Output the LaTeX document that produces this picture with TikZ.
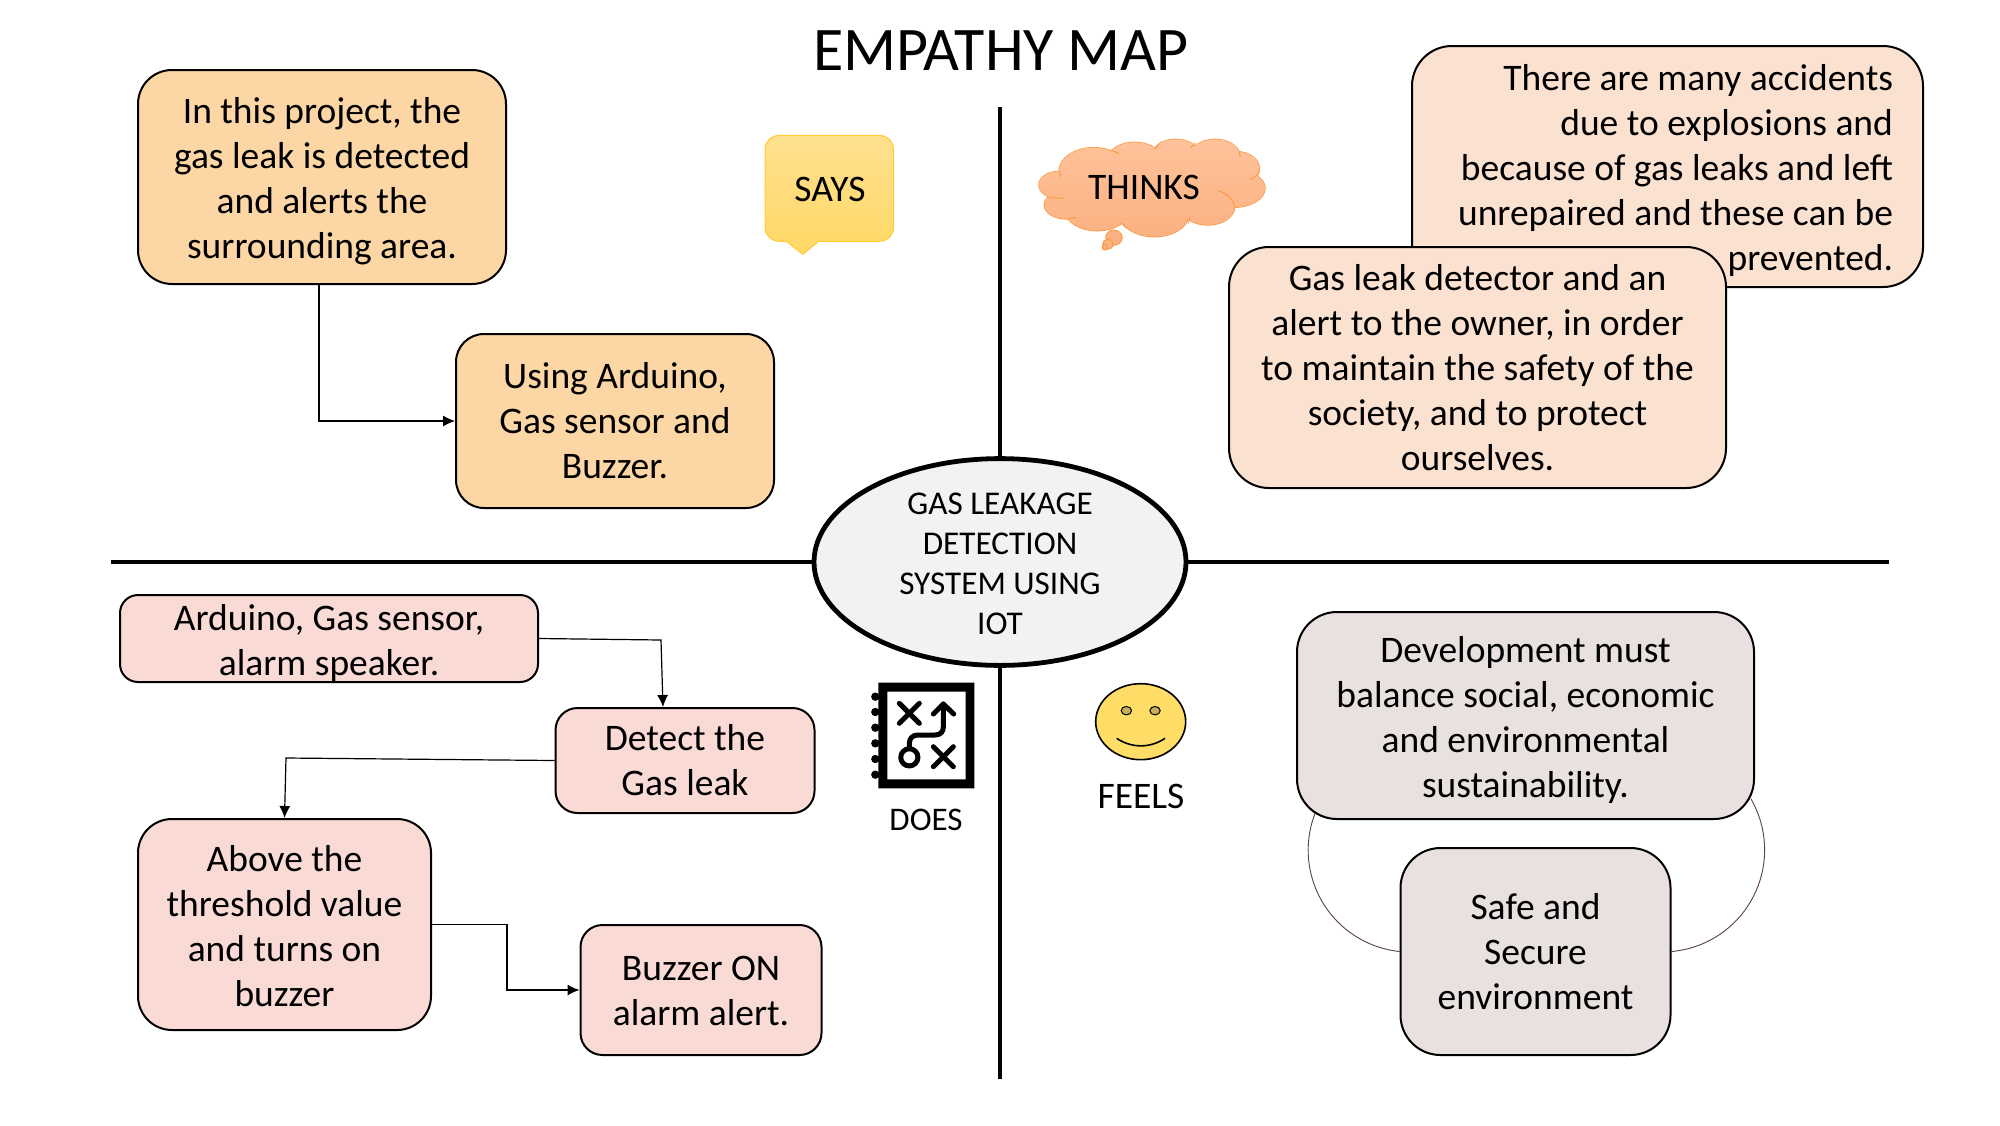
\documentclass[tikz,border=0pt]{standalone}
\usepackage{fontspec}
\setmainfont{Carlito}
\usetikzlibrary{arrows.meta,backgrounds,shapes.geometric}
\definecolor{cOrange}{HTML}{FDD6A5}
\definecolor{cPeach}{HTML}{FBE1D0}
\definecolor{cPink}{HTML}{F9DAD5}
\definecolor{cGrey}{HTML}{E9E0E0}
\definecolor{cCenter}{HTML}{F2F2F2}
\definecolor{cCloudLine}{HTML}{F79A3E}
\definecolor{cCloudTop}{HTML}{FFC29B}
\definecolor{cCloudBot}{HTML}{FBB181}
\definecolor{cSaysLine}{HTML}{FFCB2E}
\definecolor{cSaysTop}{HTML}{FFE08F}
\definecolor{cSaysBot}{HTML}{FFD966}
\definecolor{cSmile}{HTML}{FFDD66}
\definecolor{cEye}{HTML}{C9AE5A}
\definecolor{cArc}{HTML}{5B4045}
\newcommand{\dnrule}[1]{\rule{0pt}{#1pt}}
\tikzset{
  card/.style={draw=black,line width=1pt,rounded corners=#1,align=center,inner sep=0pt,
    font=\fontsize{18.75}{22.5}\selectfont},
  card/.default=17pt,
  label text/.style={inner sep=0pt,align=center},
  link/.style={draw=black,line width=0.6pt,-{Latex[length=6pt,width=5.5pt]}},
  axis/.style={draw=black,line width=2.4pt},
  icon/.style={draw=black,line width=2.5pt,line cap=round,line join=round},
  bump/.style={cCloudLine,line width=0.45pt},
}
\begin{document}
\begin{tikzpicture}[x=0.5pt,y=-0.5pt]
\useasboundingbox (0,0) rectangle (2000,1125);
% title
\node[label text,font=\fontsize{31}{36}\selectfont] (title) at (1001,51) {EMPATHY MAP};

% axes and centre
\coordinate (vTop) at (1000,107);
\coordinate (vBot) at (1000,1079);
\coordinate (hL) at (111,562);
\coordinate (hR) at (1889,562);
\node[ellipse,draw=black,line width=2.4pt,fill=cCenter,minimum width=186pt,minimum height=102pt,inner sep=0pt,align=center,font=\fontsize{16.6}{20}\selectfont] (center) at (1000,562)
  {\dnrule{13}GAS LEAKAGE\\DETECTION\\SYSTEM USING\\IOT};
\draw[axis] (center.north) -- (vTop);
\draw[axis] (center.south) -- (vBot);
\draw[axis] (center.west) -- (hL);
\draw[axis] (center.east) -- (hR);

% SAYS quadrant
\coordinate (d1) at (319,0);
\node[card,fill=cOrange,minimum width=184pt,minimum height=107pt] (b1) at (322,177)
  {\dnrule{17.5}In this project, the\\gas leak is detected\\and alerts the\\surrounding area.};
\node[card=14pt,fill=cOrange,minimum width=159pt,minimum height=87pt] (b2) at (615,421)
  {Using Arduino,\\Gas sensor and\\Buzzer.};
\draw[link] (b1.south -| d1) |- (b2.west);

% SAYS bubble and cloud, in the units of a crop
\begin{scope}[shift={(370pt,-55pt)},x=0.17857pt,y=-0.16667pt]
\shade[top color=cSaysTop,bottom color=cSaysBot,draw=cSaysLine,line width=0.5pt]
  (112,76) -- (388,76) .. controls (412,76) and (430,94) .. (430,118) -- (430,352)
  .. controls (430,376) and (412,394) .. (388,394) -- (220,394) -- (176,433) -- (130,394) -- (112,394)
  .. controls (88,394) and (70,376) .. (70,352) -- (70,118) .. controls (70,94) and (88,76) .. (112,76) -- cycle;
\foreach \a/\b/\c/\d in {890/225/53/40,990/185/97/72,1105/140/70/43,1220/125/60/37,1330/140/70/52,1390/175/64/50,1380/235/90/57,1310/290/75/55,1160/310/98/70,1000/300/90/62,915/285/63/42}
  \draw[cCloudLine,line width=0.7pt] (\a,\b) ellipse[x radius=\c*0.17857pt,y radius=\d*0.16667pt];
\shade[top color=cCloudTop,bottom color=cCloudBot]
  (890,225) ellipse[x radius=53*0.17857pt,y radius=40*0.16667pt]
  (990,185) ellipse[x radius=97*0.17857pt,y radius=72*0.16667pt]
  (1105,140) ellipse[x radius=70*0.17857pt,y radius=43*0.16667pt]
  (1220,125) ellipse[x radius=60*0.17857pt,y radius=37*0.16667pt]
  (1330,140) ellipse[x radius=70*0.17857pt,y radius=52*0.16667pt]
  (1390,175) ellipse[x radius=64*0.17857pt,y radius=50*0.16667pt]
  (1380,235) ellipse[x radius=90*0.17857pt,y radius=57*0.16667pt]
  (1310,290) ellipse[x radius=75*0.17857pt,y radius=55*0.16667pt]
  (1160,310) ellipse[x radius=98*0.17857pt,y radius=70*0.16667pt]
  (1000,300) ellipse[x radius=90*0.17857pt,y radius=62*0.16667pt]
  (915,285) ellipse[x radius=63*0.17857pt,y radius=42*0.16667pt]
  (1150,220) ellipse[x radius=240*0.17857pt,y radius=95*0.16667pt];
\draw[bump] (1035,120) .. controls (1045,123) and (1055,127) .. (1062,131);
\draw[bump] (1162,118) .. controls (1164,113) and (1167,108) .. (1172,103);
\draw[bump] (1262,113) .. controls (1266,108) and (1270,104) .. (1275,100);
\draw[bump] (1398,125) .. controls (1400,130) and (1401,135) .. (1401,140);
\draw[bump] (1428,208) .. controls (1440,202) and (1450,195) .. (1455,183);
\draw[bump] (1338,242) .. controls (1365,250) and (1382,270) .. (1385,292);
\draw[bump] (1255,340) .. controls (1258,333) and (1259,327) .. (1259,321);
\draw[bump] (1068,340) .. controls (1073,345) and (1077,350) .. (1082,354);
\draw[bump] (920,325) .. controls (927,325) and (933,324) .. (940,322);
\draw[bump] (865,262) .. controls (880,264) and (893,265) .. (907,264);
\draw[bump] (895,185) .. controls (895,190) and (896,196) .. (899,202);
\draw[cCloudLine,fill=cCloudBot,line width=0.45pt] (1047,383) ellipse[x radius=23*0.17857pt,y radius=23*0.16667pt];
\draw[cCloudLine,fill=cCloudBot,line width=0.45pt] (1030,403) ellipse[x radius=15*0.17857pt,y radius=15*0.16667pt];
\draw[cCloudLine,fill=cCloudBot,line width=0.45pt] (1022,412) ellipse[x radius=8*0.17857pt,y radius=8*0.16667pt];
\end{scope}
\node[label text,font=\fontsize{18.75}{22}\selectfont] (says) at (830,189) {SAYS};
\node[label text,font=\fontsize{18.75}{22}\selectfont] (thinks) at (1144,187) {THINKS};

% THINKS quadrant
\node[card=20pt,fill=cPeach,minimum height=120.5pt,text width=225.5pt,inner xsep=15pt,align=flush right] (b3) at (1667.5,166.5)
  {\dnrule{17.5}There are many accidents\\due to explosions and\\because of gas leaks and left\\unrepaired and these can be\\prevented.};
\node[card=20pt,fill=cPeach,minimum width=248.5pt,minimum height=120.5pt] (b4) at (1477.5,367.5)
  {Gas leak detector and an\\alert to the owner, in order\\to maintain the safety of the\\society, and to protect\\ourselves.};

% DOES quadrant
\node[card=9pt,fill=cPink,minimum width=209pt,minimum height=43.5pt] (b5) at (329,638.5)
  {\dnrule{17.5}Arduino, Gas sensor,\\alarm speaker.};
\node[card=11pt,fill=cPink,minimum width=129.5pt,minimum height=52.5pt] (b6) at (685,760.5)
  {Detect the\\Gas leak};
\node[card=17pt,fill=cPink,minimum width=146.5pt,minimum height=105.5pt] (b7) at (284.5,924.5)
  {\dnrule{14.5}Above the\\threshold value\\and turns on\\buzzer};
\node[card=11pt,fill=cPink,minimum width=120.5pt,minimum height=65pt] (b8) at (701,990)
  {\dnrule{13.5}Buzzer ON\\alarm alert.};
\coordinate (e1) at (661,640);
\coordinate (e2) at (286,758);
\draw[link] (b5.east) -- (e1) -- (b6.north -| 663,0);
\draw[link] (b6.west) -- (e2) -- (b7.north);
\draw[link] (b7.east) -- ++(75,0) |- (b8.west);

% DOES icon
\begin{scope}[shift={(425pt,-330pt)},x=0.16667pt,y=-0.16667pt]
\foreach \yy in {110,156,203,250,297,344}
  \fill[black] (76,\yy) circle[radius=2.1pt];
\fill[black,even odd rule] (85,68) rectangle (373,385) (112,95) rectangle (347,358);
\draw[icon] (148,130) -- (208,190) (208,130) -- (148,190);
\draw[icon] (250,260) -- (310,320) (310,260) -- (250,320);
\draw[icon] (178,292) circle[radius=4.3pt];
\draw[icon] (178,262) -- (178,250) .. controls (178,235) and (188,225) .. (203,225) -- (255,225) .. controls (272,225) and (280,215) .. (280,200) -- (280,132);
\draw[icon] (250,162) -- (280,132) -- (311,162);
\end{scope}
\node[label text,font=\fontsize{16.5}{19}\selectfont] (does) at (926,820) {DOES};

% FEELS icon
\begin{scope}[shift={(425pt,-330pt)},x=0.16667pt,y=-0.16667pt]
\draw[black,fill=cSmile,line width=0.8pt] (872,185) ellipse[x radius=22.5pt,y radius=19pt];
\draw[black,fill=cEye,line width=0.5pt] (829,152) ellipse[x radius=2.6pt,y radius=2.1pt];
\draw[black,fill=cEye,line width=0.5pt] (915,152) ellipse[x radius=2.6pt,y radius=2.1pt];
\draw[black,line width=0.8pt] (800,235) .. controls (845,265) and (900,265) .. (945,235);
\end{scope}
\node[label text,font=\fontsize{18.75}{22}\selectfont] (feels) at (1141,796) {FEELS};

% FEELS quadrant
\node[card=20pt,fill=cGrey,minimum width=228.5pt,minimum height=103.5pt] (b9) at (1525.5,715.5)
  {\dnrule{17.5}Development must\\balance social, economic\\and environmental\\sustainability.};
\node[card=20pt,fill=cGrey,minimum width=135pt,minimum height=103.5pt] (b10) at (1535.5,951.5)
  {\dnrule{13.5}Safe and\\Secure\\environment};
\begin{scope}[on background layer]
\draw[cArc,line width=0.45pt] (b10.west) arc[start angle=264,end angle=155,radius=51pt];
\draw[cArc,line width=0.45pt] (b10.east) arc[start angle=275,end angle=390,radius=51pt];
\end{scope}
\end{tikzpicture}
\end{document}
